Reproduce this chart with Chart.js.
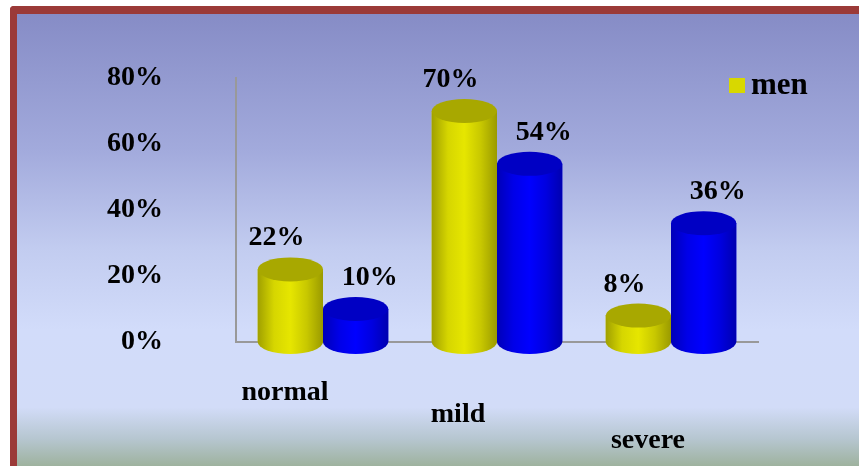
<!DOCTYPE html>
<html>
<head>
<meta charset="utf-8">
<script src="https://cdn.jsdelivr.net/npm/chart.js@4"></script>
<style>
  html, body { margin: 0; padding: 0; background: #fff; }
  #frame {
    position: absolute; left: 10px; top: 6px; width: 860px; height: 452px;
    border-left: 7px solid #9b3a38; border-top: 8px solid #9b3a38; border-bottom: 4px solid #9b3a38;
    border-top-left-radius: 4px;
    background: linear-gradient(to bottom, #868cc6 0%, #a2aadc 30%, #c2ccf0 52%, #d2dcfa 70%, #d2dcf8 87%, #b6c6d0 94%, #9eb29e 100%);
  }
  #wrap { position: absolute; left: 0; top: 0; width: 859px; height: 466px; }
</style>
</head>
<body>
<div id="frame"></div>
<div id="wrap"><canvas id="resultsChart" width="859" height="466"></canvas></div>
<script>
var categories = ["normal", "mild", "severe"];
var menValues = [22, 70, 8];
var womenValues = [10, 54, 36];
var yTicks = [0, 20, 40, 60, 80];

var seriesColors = ["#d8d800", "#0000f0"];
var capColors = ["#a8a800", "#0000c4"];
var bodyStops = [
    ["#a0a000", "#d6d600", "#e6e600", "#c8c800", "#9a9a00"],
    ["#0000b8", "#0000e8", "#0000ff", "#0000e0", "#0000b0"]
];
// staggered category labels (perspective look of the original)
var labelShiftX = [-38, -39, -23];
var labelShiftY = [51, 73, 99];
var serifBold = "bold 28px 'Liberation Serif', 'Times New Roman', serif";

// draw each bar as a cylinder on top of the element Chart.js laid out
var cylinders = {
    id: "cylinders",
    afterDatasetsDraw(chart) {
        var ctx = chart.ctx;
        chart.data.datasets.forEach(function (ds, di) {
            chart.getDatasetMeta(di).data.forEach(function (bar, i) {
                var p = bar.getProps(["x", "y", "base", "width"], true);
                var rx = p.width / 2, ry = 12;
                var left = p.x - rx;
                ctx.save();
                var g = ctx.createLinearGradient(left, 0, left + p.width, 0);
                bodyStops[di].forEach(function (c, k) { g.addColorStop(k / 4, c); });
                ctx.fillStyle = g;
                ctx.beginPath();
                ctx.moveTo(left, p.y);
                ctx.lineTo(left, p.base);
                ctx.ellipse(p.x, p.base, rx, ry, 0, Math.PI, 0, true);
                ctx.lineTo(left + p.width, p.y);
                ctx.closePath();
                ctx.fill();
                ctx.fillStyle = capColors[di];
                ctx.beginPath();
                ctx.ellipse(p.x, p.y, rx, ry, 0, 0, Math.PI * 2);
                ctx.fill();
                // value label
                ctx.fillStyle = "#000";
                ctx.font = serifBold;
                ctx.textAlign = "center";
                ctx.textBaseline = "alphabetic";
                var dx = di === 0 ? -14 : 14;
                ctx.fillText(ds.data[i] + "%", p.x + dx, p.y - ry - 12);
                ctx.restore();
            });
        });
    },
    afterDraw(chart) {
        var ctx = chart.ctx;
        var xs = chart.scales.x;
        var area = chart.chartArea;
        ctx.save();
        ctx.fillStyle = "#000";
        ctx.font = serifBold;
        ctx.textAlign = "center";
        ctx.textBaseline = "middle";
        categories.forEach(function (c, i) {
            ctx.fillText(c, xs.getPixelForValue(i) + labelShiftX[i], area.bottom + labelShiftY[i]);
        });
        // legend (only the first series is visible in the original)
        var ds = chart.data.datasets[0];
        ctx.fillStyle = seriesColors[0];
        ctx.fillRect(729, 78, 16, 15);
        ctx.fillStyle = "#000";
        ctx.font = "bold 31px 'Liberation Serif', 'Times New Roman', serif";
        ctx.textAlign = "left";
        ctx.fillText(ds.label, 751, 86);
        ctx.restore();
    }
};

new Chart("resultsChart", {
    type: "bar",
    data: {
        labels: categories,
        datasets: [
            { label: "men", data: menValues, backgroundColor: seriesColors[0] },
            { label: "women", data: womenValues, backgroundColor: seriesColors[1] }
        ]
    },
    options: {
        responsive: false,
        animation: false,
        layout: { padding: { left: 34, right: 101, top: 78, bottom: 116 } },
        categoryPercentage: 0.75,
        barPercentage: 1.0,
        plugins: {
            legend: { display: false },
            tooltip: { enabled: false }
        },
        scales: {
            x: {
                grid: { display: false },
                border: { display: true, color: "#999", width: 2 },
                ticks: { display: false }
            },
            y: {
                min: 0,
                max: 80,
                afterBuildTicks(axis) { axis.ticks = yTicks.map(function (v) { return { value: v }; }); },
                afterFit(axis) { axis.paddingTop = 16; axis.paddingBottom = 16; },
                grid: { display: false, drawTicks: false },
                border: { display: true, color: "#999", width: 2 },
                ticks: {
                    padding: 73,
                    color: "#000",
                    font: { family: "'Liberation Serif', 'Times New Roman', serif", size: 28, weight: "bold" },
                    callback: function (v) { return v + "%"; }
                }
            }
        }
    },
    plugins: [cylinders]
});
</script>
</body>
</html>
